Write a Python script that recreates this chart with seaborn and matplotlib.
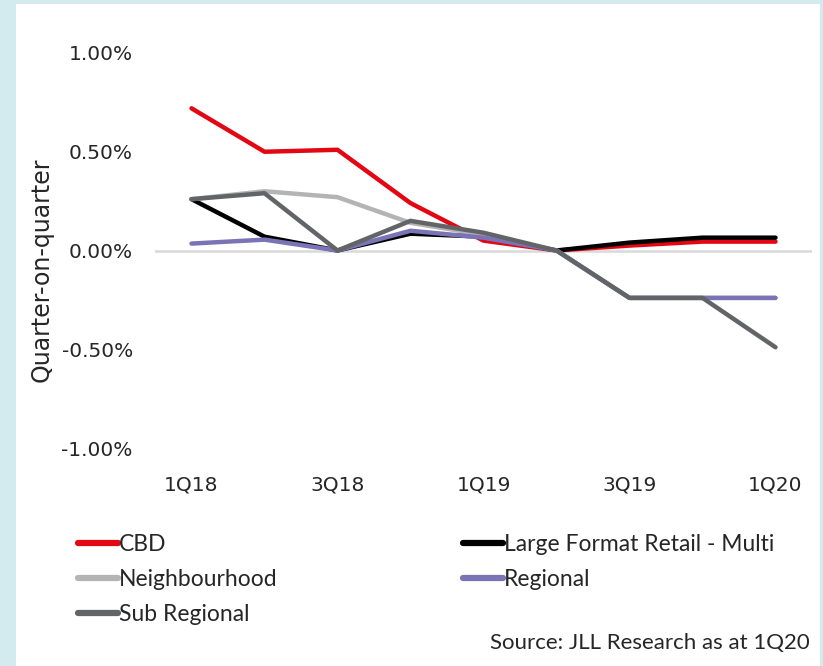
import matplotlib
matplotlib.use("Agg")
import matplotlib.pyplot as plt
from matplotlib.patches import Rectangle
from matplotlib.lines import Line2D
from matplotlib.ticker import FuncFormatter
import seaborn as sns
import pandas as pd

quarters = ["1Q18", "2Q18", "3Q18", "4Q18", "1Q19", "2Q19", "3Q19", "4Q19", "1Q20"]
tick_labels = ["1Q18", "3Q18", "1Q19", "3Q19", "1Q20"]

cbd = [0.72, 0.50, 0.51, 0.24, 0.05, 0.00, 0.025, 0.045, 0.045]
large_format = [0.26, 0.07, 0.00, 0.085, 0.07, 0.00, 0.04, 0.065, 0.065]
neighbourhood = [0.26, 0.30, 0.27, 0.14, 0.08, 0.00, -0.24, -0.24, -0.24]
regional = [0.035, 0.055, 0.00, 0.10, 0.065, 0.00, -0.24, -0.24, -0.24]
sub_regional = [0.26, 0.29, 0.00, 0.15, 0.09, 0.00, -0.24, -0.24, -0.49]

series_names = ["CBD", "Large Format Retail - Multi", "Neighbourhood", "Regional", "Sub Regional"]
series_values = [cbd, large_format, neighbourhood, regional, sub_regional]
colors = ["#e30613", "#000000", "#b4b4b4", "#7a74b6", "#636468"]

rows = []
for name, vals in zip(series_names, series_values):
    for i, (q, v) in enumerate(zip(quarters, vals)):
        rows.append({"idx": i, "quarter": q, "series": name, "value": v})
df = pd.DataFrame(rows)

sns.set_style("white")
plt.rcParams["font.family"] = ["DejaVu Sans"]

fig = plt.figure(figsize=(8.23, 6.66), dpi=100)
fig.patch.set_facecolor("#d3ebef")
# white card behind the chart
card = Rectangle((16 / 823, 0), (820 - 16) / 823, (666 - 4) / 666,
                 transform=fig.transFigure, facecolor="white",
                 edgecolor="none", zorder=-10)
fig.patches.append(card)

ax = fig.add_axes([155 / 823, 218 / 666, 657 / 823, 395 / 666])
ax.set_zorder(2)
ax.set_facecolor("none")

ax.axhline(0, color="#d9d9d9", lw=1.8, zorder=1)

sns.lineplot(data=df, x="idx", y="value", hue="series", hue_order=series_names,
             palette=colors, lw=3.2, ax=ax, legend=False, zorder=3)

ax.set_xlim(-0.5, 8.5)
ax.set_ylim(-1.0, 1.0)
ax.set_yticks([-1.0, -0.5, 0.0, 0.5, 1.0])
ax.yaxis.set_major_formatter(FuncFormatter(lambda v, p: f"{v:.2f}%"))
ax.set_xticks([quarters.index(t) for t in tick_labels])
ax.set_xticklabels(tick_labels)
ax.tick_params(axis="both", length=0, labelsize=14.5, colors="#262626")
ax.tick_params(axis="y", pad=16)
ax.tick_params(axis="x", pad=20)
for s in ax.spines.values():
    s.set_visible(False)
ax.set_xlabel("")
ax.set_ylabel("Quarter-on-quarter", fontsize=17, color="#262626")
ax.yaxis.set_label_coords(-0.154, 0.45)

legend_font = {"family": "Lato", "size": 16.5}
handles = [Line2D([0], [0], color=c, lw=4.5) for c in colors]
columns = [([0, 2, 4], 57), ([1, 3], 442)]
for idxs, xpix in columns:
    leg = fig.legend([handles[i] for i in idxs], [series_names[i] for i in idxs],
                     loc="upper left", bbox_to_anchor=(xpix / 823, 1 - 513 / 666),
                     ncol=1, frameon=False, handlelength=1.75, handletextpad=0.05,
                     labelspacing=0.62, prop=legend_font)
    for t in leg.get_texts():
        t.set_color("#262626")

fig.text(810 / 823, 1 - 643 / 666, "Source: JLL Research as at 1Q20",
         ha="right", va="center", fontsize=16, color="#262626", family="Lato")

fig.savefig("out.png", dpi=100, facecolor=fig.get_facecolor())
